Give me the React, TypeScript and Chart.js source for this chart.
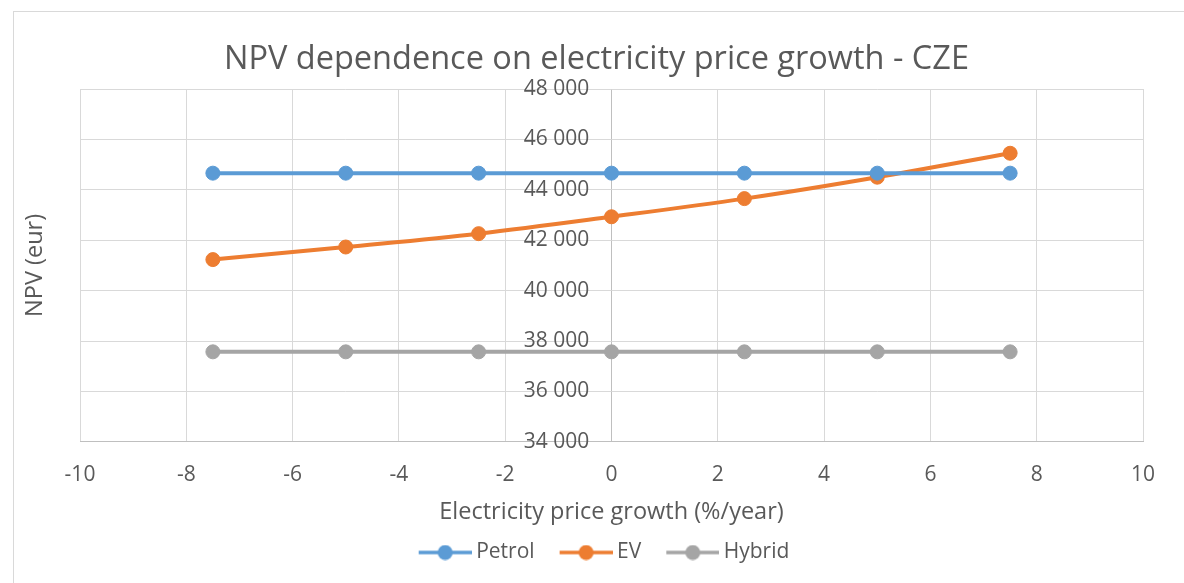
import { useEffect, useRef } from "react";
import { Chart, registerables } from "chart.js";

Chart.register(...registerables);

// ---- data ----
const growthRates = [-7.5, -5, -2.5, 0, 2.5, 5, 7.5];
const petrolNpv = [44660, 44660, 44660, 44660, 44660, 44660, 44660];
const evNpv = [41230, 41730, 42260, 42930, 43650, 44500, 45450];
const hybridNpv = [37570, 37570, 37570, 37570, 37570, 37570, 37570];
const seriesNames = ["Petrol", "EV", "Hybrid"];
const seriesColors = ["#5B9BD5", "#ED7D31", "#A5A5A5"];
const chartTitle = "NPV dependence on electricity price growth - CZE";
const xAxisTitle = "Electricity price growth (%/year)";
const yAxisTitle = "NPV (eur)";
const xRange = [-10, 10];
const xStep = 2;
const yRange = [34000, 48000];
const yStep = 2000;

const FONT = "'Open Sans', 'Noto Sans', sans-serif";
const TEXT = "#595959";

function legendMarker(color: string) {
  const c = document.createElement("canvas");
  c.width = 74;
  c.height = 16;
  const ctx = c.getContext("2d")!;
  ctx.strokeStyle = color;
  ctx.lineWidth = 3.5;
  ctx.beginPath();
  ctx.moveTo(21, 8);
  ctx.lineTo(74, 8);
  ctx.stroke();
  ctx.fillStyle = color;
  ctx.beginPath();
  ctx.arc(47.5, 8, 7.5, 0, Math.PI * 2);
  ctx.fill();
  return c;
}

const framePlugin = {
  id: "frame",
  beforeDraw(chart: any) {
    const ctx = chart.ctx;
    ctx.save();
    ctx.fillStyle = "#ffffff";
    ctx.fillRect(0, 0, chart.width, chart.height);
    ctx.strokeStyle = "#d9d9d9";
    ctx.lineWidth = 1;
    ctx.strokeRect(13.5, 11.5, chart.width + 20, chart.height + 20);
    ctx.restore();
  },
};

export default function App() {
  const ref = useRef<HTMLCanvasElement | null>(null);

  useEffect(() => {
    if (!ref.current) return;
    const seriesValues = [petrolNpv, evNpv, hybridNpv];
    const markers = seriesColors.map((c) => legendMarker(c));
    const chart = new Chart(ref.current, {
      type: "scatter",
      data: {
        datasets: seriesNames.map((name, s) => ({
          label: name,
          data: growthRates.map((x, i) => ({ x, y: seriesValues[s][i] })),
          showLine: true,
          borderColor: seriesColors[s],
          backgroundColor: seriesColors[s],
          borderWidth: 4,
          pointRadius: 7,
          pointBorderWidth: 1,
          pointBorderColor: seriesColors[s],
          pointBackgroundColor: seriesColors[s],
          tension: 0.35,
          xAxisID: "x",
          yAxisID: "y",
        })),
      },
      options: {
        responsive: false,
        animation: false,
        layout: { padding: { left: 14, right: 5, top: 0, bottom: 10 } },
        plugins: {
          title: {
            display: true,
            text: chartTitle,
            color: TEXT,
            font: { family: FONT, size: 32.5, weight: "normal" },
            padding: { top: 40, bottom: 10 },
          },
          legend: {
            display: true,
            position: "bottom",
            labels: {
              usePointStyle: true,
              pointStyleWidth: 62,
              padding: 10,
              color: TEXT,
              font: { family: FONT, size: 21 },
              generateLabels: (c: any) =>
                (Chart.defaults.plugins.legend.labels as any)
                  .generateLabels(c)
                  .map((l: any) => ({ ...l, pointStyle: markers[l.datasetIndex] })),
            },
          },
          tooltip: { enabled: false },
        },
        scales: {
          x: {
            type: "linear",
            position: "bottom",
            min: xRange[0],
            max: xRange[1],
            ticks: {
              stepSize: xStep,
              color: TEXT,
              font: { family: FONT, size: 21 },
              padding: 21,
            },
            grid: {
              color: (c: any) => (c.tick && c.tick.value === 0 ? "#bfbfbf" : "#d9d9d9"),
              lineWidth: 1,
              drawTicks: false,
            },
            border: { color: "#bfbfbf", width: 1 },
            title: {
              display: true,
              text: xAxisTitle,
              color: TEXT,
              font: { family: FONT, size: 23.5 },
              padding: { top: -10.3, bottom: 5.1 },
            },
          },
          y: {
            type: "linear",
            position: { x: -0.42 } as any,
            min: yRange[0],
            max: yRange[1],
            ticks: {
              stepSize: yStep,
              color: TEXT,
              font: { family: FONT, size: 21 },
              callback: (v: any) => Number(v).toLocaleString("en-US").replace(/,/g, " "),
            },
            grid: { color: "#d9d9d9", lineWidth: 1, drawTicks: false },
            border: { display: false },
          },
          yTitle: {
            type: "linear",
            position: "left",
            grid: { display: false, drawTicks: false },
            border: { display: false },
            ticks: { display: false },
            title: {
              display: true,
              text: yAxisTitle,
              color: TEXT,
              font: { family: FONT, size: 23.5 },
              padding: { top: 6.9, bottom: 30.9 },
            },
          },
          ySpacer: {
            type: "linear",
            position: "right",
            grid: { display: false, drawTicks: false },
            border: { display: false },
            ticks: { display: false },
            title: {
              display: true,
              text: "",
              font: { family: FONT, size: 23.5 },
              padding: { top: 0, bottom: 7.8 },
            },
          },
        },
      } as any,
      plugins: [framePlugin],
    });
    return () => chart.destroy();
  }, []);

  return (
    <div style={{ position: "fixed", left: 0, top: 0, width: 1184, height: 583 }}>
      <canvas ref={ref} width={1184} height={583} style={{ width: 1184, height: 583, display: "block" }} />
    </div>
  );
}
